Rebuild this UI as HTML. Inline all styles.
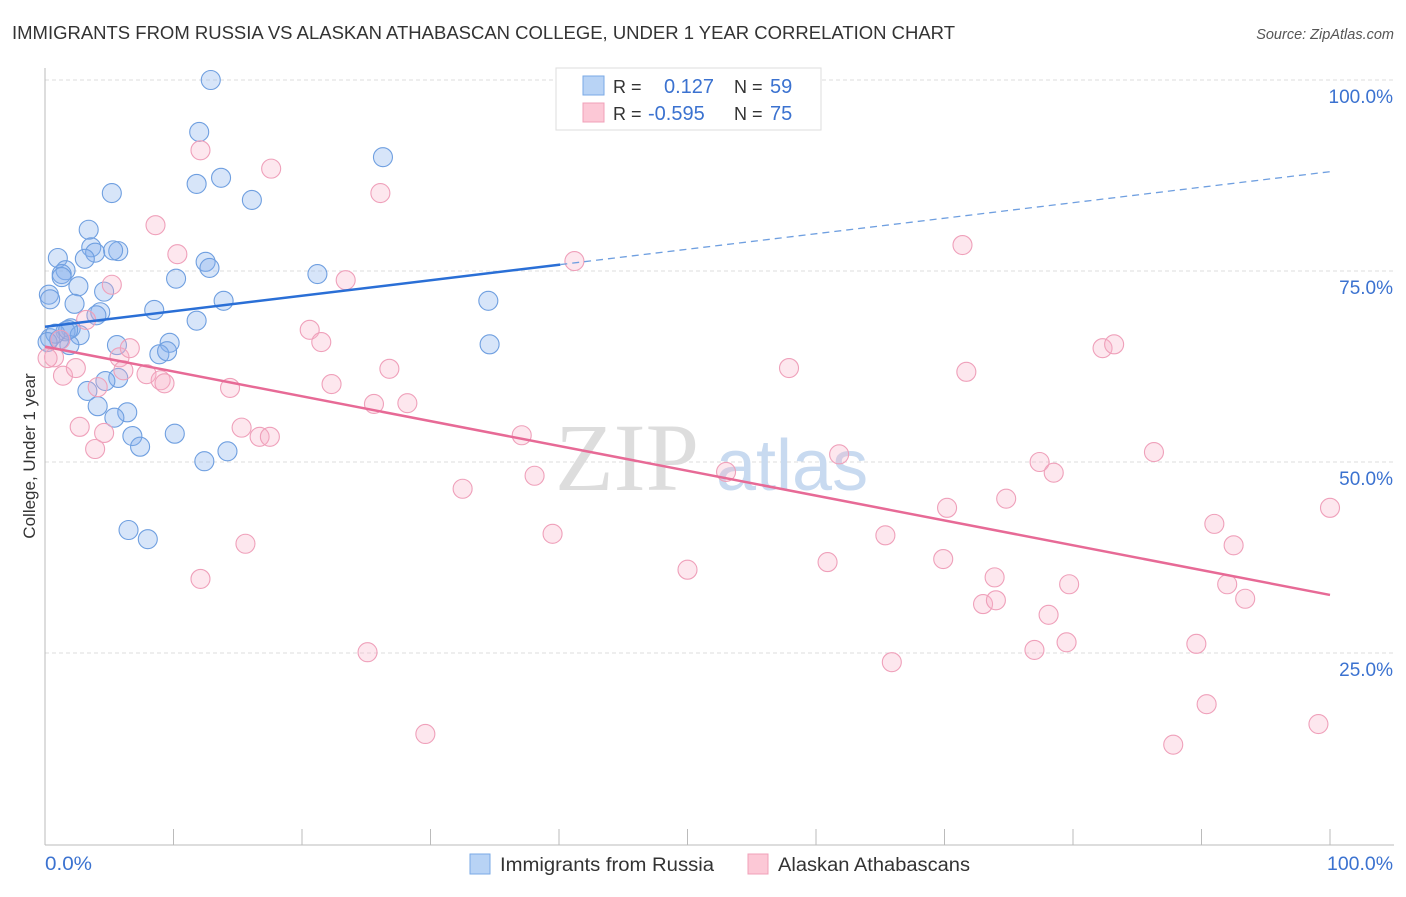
<!DOCTYPE html>
<html><head><meta charset="utf-8"><style>
body{margin:0;background:#fff;font-family:"Liberation Sans",sans-serif;}
svg text{font-family:"Liberation Sans",sans-serif;}
</style></head><body>
<svg width="1406" height="892">
<text x="12" y="39" font-size="18" fill="#333" textLength="943" lengthAdjust="spacingAndGlyphs">IMMIGRANTS FROM RUSSIA VS ALASKAN ATHABASCAN COLLEGE, UNDER 1 YEAR CORRELATION CHART</text>
<text x="1394" y="39" font-size="14.5" fill="#555" font-style="italic" text-anchor="end">Source: ZipAtlas.com</text>
<g id="grid"></g>
<g id="wm">
<text x="555" y="490" font-size="96" fill="#ddd" font-family="Liberation Serif" style="font-family:'Liberation Serif',serif">ZIP</text>
<text x="716" y="490" font-size="72" fill="#c8daf0">atlas</text>
</g>
<g id="marks"></g>
<text x="35" y="456" font-size="17" fill="#333" text-anchor="middle" transform="rotate(-90 35 456)">College, Under 1 year</text>
<g>
<rect x="556" y="68" width="265" height="62" fill="#fff" stroke="#ddd"/>
<rect x="583" y="76" width="21" height="19" fill="#b8d3f5" stroke="#7aaae6"/>
<rect x="583" y="103" width="21" height="19" fill="#fcc8d6" stroke="#f0a0b8"/>
<text x="613" y="93" font-size="18" fill="#333">R =</text><text x="664" y="93" font-size="20" fill="#3b72d0">0.127</text>
<text x="734" y="93" font-size="18" fill="#333">N =</text><text x="770" y="93" font-size="20" fill="#3b72d0">59</text>
<text x="613" y="120" font-size="18" fill="#333">R =</text><text x="648" y="120" font-size="20" fill="#3b72d0">-0.595</text>
<text x="734" y="120" font-size="18" fill="#333">N =</text><text x="770" y="120" font-size="20" fill="#3b72d0">75</text>
</g>
<g>
<rect x="470" y="854" width="20" height="20" fill="#b8d3f5" stroke="#7aaae6"/>
<text x="500" y="871" font-size="19" fill="#333" textLength="214" lengthAdjust="spacingAndGlyphs">Immigrants from Russia</text>
<rect x="748" y="854" width="20" height="20" fill="#fcc8d6" stroke="#f0a0b8"/>
<text x="778" y="871" font-size="19" fill="#333" textLength="192" lengthAdjust="spacingAndGlyphs">Alaskan Athabascans</text>
</g>
<text x="45" y="870" font-size="19" fill="#3b72d0" textLength="47" lengthAdjust="spacingAndGlyphs">0.0%</text>
<text x="1327" y="870" font-size="19" fill="#3b72d0" textLength="66" lengthAdjust="spacingAndGlyphs">100.0%</text>
</svg>
<script>
const yTicks=[100,75,50,25];
const yTickLabels=["100.0%","75.0%","50.0%","25.0%"];
const xTicks=[0,10,20,30,40,50,60,70,80,90,100];
const blueX=[12.9,12.0,26.3,5.2,11.8,13.7,16.1,3.4,5.7,3.6,3.9,1.0,3.1,5.3,12.5,12.8,10.2,21.2,1.6,1.3,1.3,2.6,4.6,0.3,0.4,13.9,8.5,2.3,4.3,4.0,11.8,34.5,2.0,1.6,2.7,0.4,1.1,1.9,34.6,5.6,9.7,8.9,9.5,5.7,4.7,3.3,6.4,4.1,5.4,6.8,7.4,10.1,12.4,14.2,6.5,8.0,0.8,0.2,1.8];
const blueY=[100.0,93.2,89.9,85.2,86.4,87.2,84.3,80.4,77.6,78.1,77.4,76.7,76.6,77.7,76.2,75.4,74.0,74.6,75.1,74.6,74.2,73.0,72.3,71.9,71.3,71.1,69.9,70.7,69.6,69.2,68.5,71.1,67.5,67.1,66.6,66.2,66.0,65.3,65.4,65.3,65.6,64.1,64.5,61.0,60.6,59.3,56.5,57.3,55.8,53.4,52.0,53.7,50.1,51.4,41.1,39.9,66.8,65.7,67.3];
const pinkX=[12.1,17.6,26.1,8.6,10.3,41.2,71.4,5.2,23.4,3.2,20.6,21.5,82.3,83.2,57.9,71.7,0.7,1.4,2.4,5.8,6.6,7.9,9.0,9.3,6.1,4.1,14.4,22.3,26.8,2.7,4.6,3.9,15.3,16.7,17.5,25.6,28.2,37.1,38.1,32.5,53.0,61.8,77.4,78.5,86.3,74.8,70.2,100,91.0,92.5,39.5,65.4,15.6,50.0,60.9,69.9,73.9,79.7,92.0,93.4,73.0,74.0,78.1,79.5,77.0,89.6,12.1,25.1,65.9,90.4,29.6,99.1,87.8,1.2,0.2];
const pinkY=[90.8,88.4,85.2,81.0,77.2,76.3,78.4,73.2,73.8,68.6,67.3,65.7,64.9,65.4,62.3,61.8,63.7,61.3,62.3,63.7,64.9,61.5,60.7,60.3,62.0,59.8,59.7,60.2,62.2,54.6,53.8,51.7,54.5,53.3,53.3,57.6,57.7,53.5,48.2,46.5,48.7,51.0,50.0,48.6,51.3,45.2,44.0,44.0,41.9,39.1,40.6,40.4,39.3,35.9,36.9,37.3,34.9,34.0,34.0,32.1,31.4,31.9,30.0,26.4,25.4,26.2,34.7,25.1,23.8,18.3,14.4,15.7,13.0,66.0,63.6];
const blueTrend=[67.7,88.0], blueSolidEnd=40.1;
const pinkTrend=[65.1,32.6];
const NS="http://www.w3.org/2000/svg";
const X=v=>45+12.85*v, Y=v=>844-7.64*v;
function mk(t,a,p){const e=document.createElementNS(NS,t);for(const k in a)e.setAttribute(k,a[k]);p.appendChild(e);return e;}
const grid=document.getElementById('grid'), marks=document.getElementById('marks');
yTicks.forEach((t,i)=>{
 const l=mk('line',{x1:45,x2:1394,y1:Y(t),y2:Y(t),stroke:'#ddd','stroke-dasharray':'4,3'},grid);
 
 
 const tx=mk('text',{x:1393,y:Y(t)+23,'font-size':19,fill:'#3b72d0','text-anchor':'end'},grid);
 tx.textContent=yTickLabels[i];
 
 
});
const ax=mk('line',{x1:45,x2:45,y1:68,y2:845,stroke:'#bbb'},grid);


const bx=mk('line',{x1:45,x2:1394,y1:845,y2:845,stroke:'#bbb'},grid);


xTicks.forEach(t=>{
 const l=mk('line',{x1:X(t),x2:X(t),y1:829,y2:845,stroke:'#bbb'},grid);
 
 
});
blueX.forEach((v,i)=>{
 const c=mk('circle',{cx:X(v),cy:Y(blueY[i]),r:9.5,fill:'rgba(130,175,235,0.32)',stroke:'#6f9fe0','stroke-width':1.1},marks);
 
 
});
pinkX.forEach((v,i)=>{
 const c=mk('circle',{cx:X(v),cy:Y(pinkY[i]),r:9.5,fill:'rgba(248,175,200,0.3)',stroke:'#efa0ba','stroke-width':1.1},marks);
 
 
});
const bAt=x=>blueTrend[0]+(blueTrend[1]-blueTrend[0])*x/100;
const l1=mk('line',{x1:X(0),y1:Y(bAt(0)),x2:X(blueSolidEnd),y2:Y(bAt(blueSolidEnd)),stroke:'#2a6fd6','stroke-width':2.5},marks);


const l2=mk('line',{x1:X(blueSolidEnd),y1:Y(bAt(blueSolidEnd)),x2:X(100),y2:Y(bAt(100)),stroke:'#6f9fe0','stroke-width':1.3,'stroke-dasharray':'7,5'},marks);


const l3=mk('line',{x1:X(0),y1:Y(pinkTrend[0]),x2:X(100),y2:Y(pinkTrend[1]),stroke:'#e76a96','stroke-width':2.5},marks);


</script>
</body></html>
